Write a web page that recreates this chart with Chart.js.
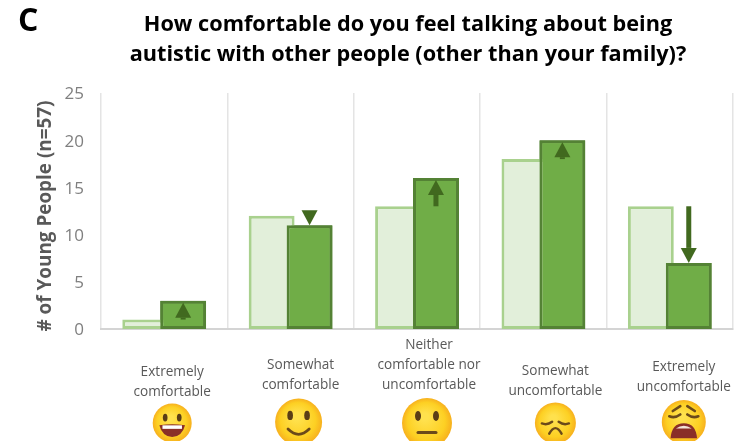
<!DOCTYPE html>
<html><head><meta charset="utf-8">
<script src="https://cdn.jsdelivr.net/npm/chart.js@4"></script>
<style>html,body{margin:0;padding:0;background:#fff}#w{position:relative;width:736px;height:441px;filter:blur(.45px)}canvas{display:block}</style>
</head><body><div id="w"><canvas id="c" width="736" height="441"></canvas></div>
<script>
const categories = ['Extremely comfortable','Somewhat comfortable','Neither comfortable nor uncomfortable','Somewhat uncomfortable','Extremely uncomfortable'];
const labelLines = [['Extremely','comfortable'],['Somewhat','comfortable'],['Neither','comfortable nor','uncomfortable'],['Somewhat','uncomfortable'],['Extremely','uncomfortable']];
const before = [1,12,13,18,13];
const after = [3,11,16,20,7];
const yTicks = [0,5,10,15,20,25];
const titleLines = ['How comfortable do you feel talking about being','autistic with other people (other than your family)?'];
const yAxisTitle = '# of Young People (n=57)';
const labelY = [372,365,345,371,367];
const labelShift = [8,10,12,12,14];
const faces = ['grin','smile','neutral','sad','weary'];
const faceShift = [8,8,10,12,14];
const faceY = [423,422,423,423,422];
const faceR = [19.5,23.5,25,20.5,22];

function arrow(ctx,x,from,to){
  const dir = to<from ? -1 : 1;
  const head=15, hw=8;
  const tip = to + (dir<0 ? 2 : 0);
  ctx.fillStyle='#41691f';
  ctx.beginPath();ctx.moveTo(x,tip);ctx.lineTo(x-hw,tip-dir*head);ctx.lineTo(x+hw,tip-dir*head);ctx.closePath();ctx.fill();
  if(Math.abs(from-tip)>head) ctx.fillRect(x-2.5,Math.min(from,tip-dir*head),5,Math.abs(from-(tip-dir*head)));
}
function face(ctx,kind,x,y,r){
  const g=ctx.createRadialGradient(x-r*.1,y-r*.25,r*.15,x,y,r);
  g.addColorStop(0,'#ffe14d');g.addColorStop(.7,'#fdd023');g.addColorStop(1,'#f7b01e');
  ctx.fillStyle=g;ctx.beginPath();ctx.arc(x,y,r,0,Math.PI*2);ctx.fill();
  ctx.strokeStyle='#6b4a1a';ctx.fillStyle='#5a3d16';ctx.lineCap='round';ctx.lineWidth=r*.12;
  const dots=()=>{for(const s of[-1,1]){ctx.beginPath();ctx.ellipse(x+s*r*.36,y-r*.28,r*.12,r*.2,0,0,Math.PI*2);ctx.fill();}};
  const lids=(o)=>{for(const s of[-1,1]){ctx.beginPath();ctx.moveTo(x+s*r*.16,y+r*(o-.06));ctx.quadraticCurveTo(x+s*r*.4,y+r*(o+.12),x+s*r*.66,y+r*(o+.02));ctx.stroke();}};
  if(kind==='grin'){dots();
    ctx.fillStyle='#8a2f28';ctx.beginPath();ctx.moveTo(x-r*.66,y+r*.12);ctx.quadraticCurveTo(x,y+r*.02,x+r*.66,y+r*.12);ctx.quadraticCurveTo(x+r*.5,y+r*.72,x,y+r*.72);ctx.quadraticCurveTo(x-r*.5,y+r*.72,x-r*.66,y+r*.12);ctx.fill();
    ctx.fillStyle='#fff';ctx.fillRect(x-r*.5,y+r*.12,r,r*.18);
  } else if(kind==='smile'){dots();ctx.beginPath();ctx.moveTo(x-r*.45,y+r*.3);ctx.quadraticCurveTo(x,y+r*.75,x+r*.45,y+r*.3);ctx.stroke();
  } else if(kind==='neutral'){dots();ctx.beginPath();ctx.moveTo(x-r*.36,y+r*.38);ctx.lineTo(x+r*.36,y+r*.38);ctx.stroke();
  } else if(kind==='sad'){lids(0);ctx.beginPath();ctx.moveTo(x-r*.3,y+r*.52);ctx.quadraticCurveTo(x-r*.15,y+r*.25,x,y+r*.25);ctx.quadraticCurveTo(x+r*.15,y+r*.25,x+r*.3,y+r*.52);ctx.stroke();
  } else {lids(-.28);
    for(const s of[-1,1]){ctx.beginPath();ctx.moveTo(x+s*r*.16,y-r*.72);ctx.lineTo(x+s*r*.5,y-r*.5);ctx.stroke();}
    ctx.fillStyle='#8a2f28';ctx.beginPath();ctx.moveTo(x-r*.6,y+r*.74);ctx.quadraticCurveTo(x-r*.55,y+r*.06,x,y+r*.06);ctx.quadraticCurveTo(x+r*.55,y+r*.06,x+r*.6,y+r*.74);ctx.closePath();ctx.fill();
    ctx.fillStyle='#f4e4d8';ctx.beginPath();ctx.moveTo(x-r*.36,y+r*.3);ctx.quadraticCurveTo(x,y+r*.04,x+r*.36,y+r*.3);ctx.closePath();ctx.fill();
  }
}
const decor = {
  id:'decor',
  afterDatasetsDraw(chart){
    const {ctx,scales:{x:xs,y:ys}} = chart;
    const barMeta = chart.getDatasetMeta(1).data;
    ctx.save();
    barMeta.forEach(el=>el.draw(ctx));
    after.forEach((v,i)=>arrow(ctx,barMeta[i].x,ys.getPixelForValue(before[i]),ys.getPixelForValue(v)));
    ctx.textAlign='center';ctx.textBaseline='middle';
    labelLines.forEach((ls,i)=>{
      ctx.fillStyle='#595959';ctx.font='13.6px "Open Sans"';
      ls.forEach((t,j)=>ctx.fillText(t,xs.getPixelForValue(i)+labelShift[i],labelY[i]+j*20));
      face(ctx,faces[i],xs.getPixelForValue(i)+faceShift[i],faceY[i],faceR[i]);
    });
    ctx.fillStyle='#000';ctx.font='bold 21.7px "Open Sans"';
    titleLines.forEach((t,i)=>ctx.fillText(t,408,25+i*30));
    ctx.save();ctx.translate(46,216);ctx.rotate(-Math.PI/2);
    ctx.fillStyle='#595959';ctx.font='bold 18.9px "Open Sans"';ctx.fillText(yAxisTitle,0,0);ctx.restore();
    ctx.textAlign='left';ctx.font='bold 32px "Open Sans"';ctx.fillStyle='#000';ctx.fillText('C',18,22);
    ctx.restore();
  }
};
new Chart(document.getElementById('c'),{
  type:'bar',
  data:{labels:categories,datasets:[
    {label:'Before',data:before,backgroundColor:'#e2efda',borderColor:'#a9d18e',borderWidth:3,borderSkipped:false,barPercentage:1.21,categoryPercentage:.6},
    {label:'After',data:after,backgroundColor:'#70ad47',borderColor:'#548235',borderWidth:3,borderSkipped:false,barPercentage:1.21,categoryPercentage:.6}
  ]},
  options:{
    responsive:false,animation:false,
    layout:{padding:{left:0,top:93,right:3,bottom:112}},
    plugins:{legend:{display:false},title:{display:false},tooltip:{enabled:false}},
    scales:{
      x:{ticks:{display:false},grid:{color:'#e4e4e4',lineWidth:1.5,drawTicks:false},border:{color:'#d4d4d4',width:2}},
      y:{min:0,max:25,afterFit(s){s.width=101;},
        afterBuildTicks(s){s.ticks=yTicks.map(v=>({value:v}));},
        grid:{display:false},border:{display:false},
        ticks:{color:'#7f7f7f',font:{size:17,family:'"Open Sans"'},padding:9,labelOffset:1.5}}
    }
  },
  plugins:[decor]
});
</script></body></html>
